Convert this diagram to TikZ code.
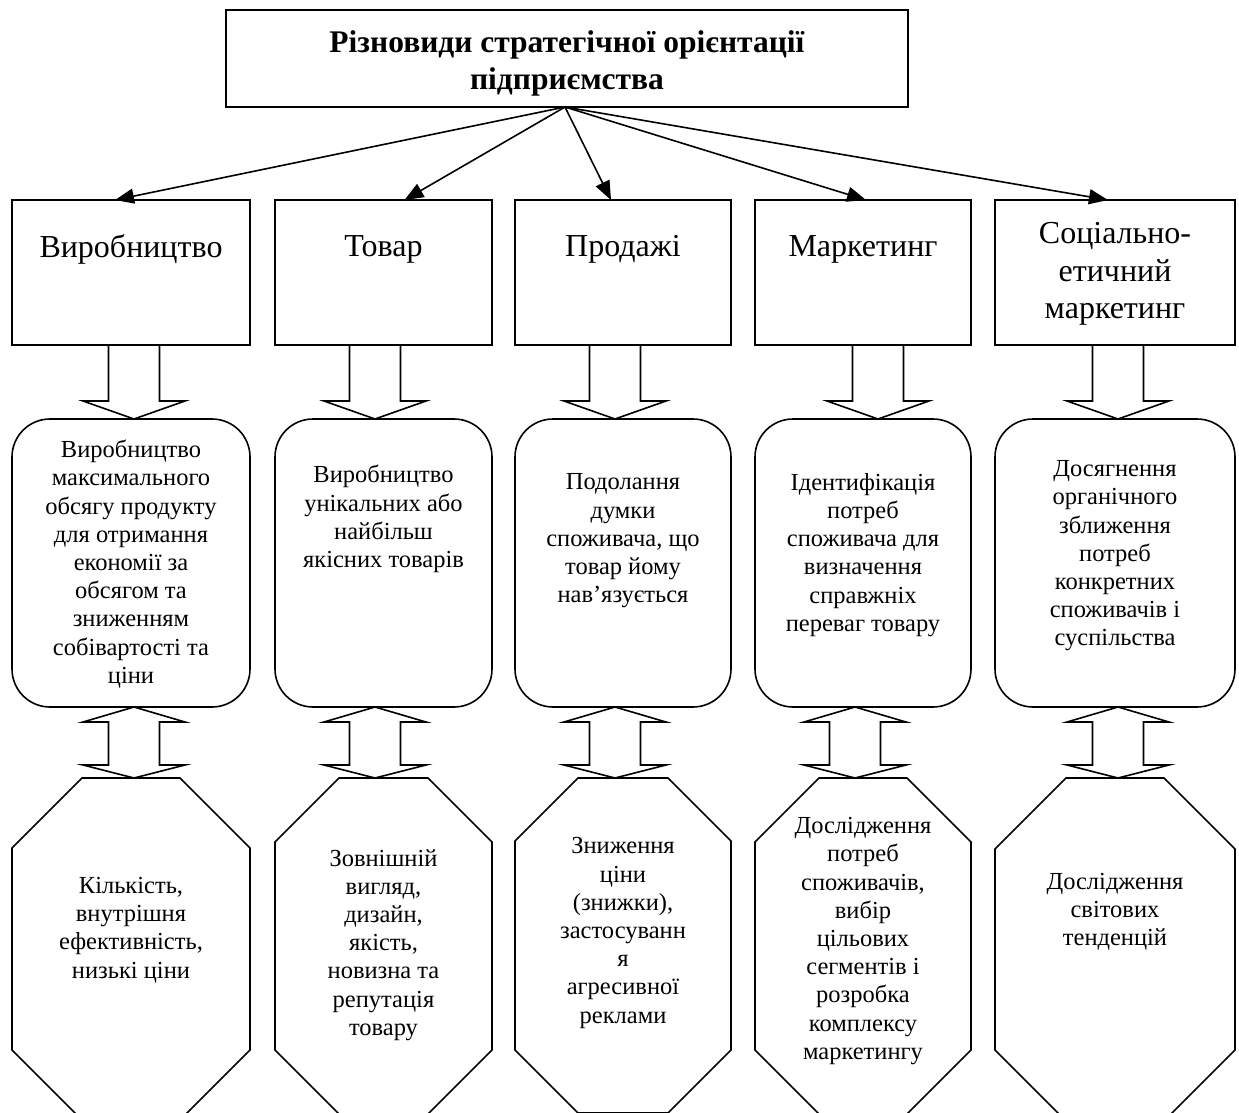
\documentclass[tikz,border=0pt]{standalone}
\usepackage{fontspec}
\setmainfont{Liberation Serif}
\usetikzlibrary{arrows.meta}
\newcommand\fsmall{\fontsize{24.5pt}{28.2pt}\selectfont}
\newcommand\fbig{\fontsize{32pt}{37.5pt}\selectfont}
\newcommand\ftitle{\fontsize{31.5pt}{37pt}\selectfont\bfseries}
% block arrow pointing down, #1 = centre x
\newcommand\blockdown[1]{%
  \draw[shapeline] (#1-25.5,345) -- (#1-25.5,401) -- (#1-51,401) -- (#1,419)
    -- (#1+51,401) -- (#1+25.5,401) -- (#1+25.5,345);}
% double block arrow, #1 = centre x
\newcommand\blockboth[1]{%
  \draw[shapeline] (#1,707) -- (#1+51,722) -- (#1+25.5,722) -- (#1+25.5,765)
    -- (#1+51,765) -- (#1,778) -- (#1-51,765) -- (#1-25.5,765)
    -- (#1-25.5,722) -- (#1-51,722) -- cycle;}
% octagon: #1 left x, #2 right x, #3 slant
\newcommand\octashape[3]{%
  \draw[shapeline] (#1+#3,778) -- (#2-#3,778) -- (#2,778+#3) -- (#2,1050)
    -- (#2-#3,1050+#3) -- (#1+#3,1050+#3) -- (#1,1050) -- (#1,778+#3) -- cycle;}
\begin{document}
\begin{tikzpicture}[x=1pt,y=-1pt,
  shapeline/.style={line width=1.6pt, line join=miter},
  frame/.style={draw, line width=1.6pt, inner sep=0pt, outer sep=0pt},
  rbox/.style={frame, rounded corners=38pt, minimum height=288pt},
  tbox/.style={frame, minimum height=145pt},
  txt/.style={align=center, inner sep=0pt, font=\fsmall},
  bigtxt/.style={align=center, inner sep=0pt, font=\fbig},
  conn/.style={line width=1.6pt, -{Triangle[length=19pt,width=15pt]}}]
\useasboundingbox (0,0) rectangle (1239,1113);
\clip (0,0) rectangle (1239,1113);
\fill[white] (0,0) rectangle (1239,1113);

% title
\node[frame, minimum width=682pt, minimum height=97pt] (title) at (567,58.5) {};
\node[align=center, inner sep=0pt, font=\ftitle] (titletxt) at (567,63)
  {Різновиди стратегічної орієнтації\\підприємства};
\coordinate (hub) at (565,107);

% top row boxes
\node[tbox, minimum width=238pt] (b1) at (131,272.5) {};
\node[tbox, minimum width=217pt] (b2) at (383.5,272.5) {};
\node[tbox, minimum width=216pt] (b3) at (623,272.5) {};
\node[tbox, minimum width=216pt] (b4) at (863,272.5) {};
\node[tbox, minimum width=240pt] (b5) at (1115,272.5) {};
\node[bigtxt] (bt1) at (131,249) {Виробництво};
\node[bigtxt] (bt2) at (383.5,249) {Товар};
\node[bigtxt] (bt3) at (623,249) {Продажі};
\node[bigtxt] (bt4) at (863,249) {Маркетинг};
\node[bigtxt] (bt5) at (1115,274) {Соціально-\\етичний\\маркетинг};

% connectors
\draw[conn] (hub) -- ([xshift=-16pt]b1.north);
\draw[conn] (hub) -- ([xshift=21pt]b2.north);
\draw[conn] (hub) -- ([xshift=-12pt]b3.north);
\draw[conn] (hub) -- ([xshift=3pt]b4.north);
\draw[conn] (hub) -- ([xshift=-7pt]b5.north);

% rounded boxes
\node[rbox, minimum width=238pt] (r1) at (131,563) {};
\node[rbox, minimum width=217pt] (r2) at (383.5,563) {};
\node[rbox, minimum width=216pt] (r3) at (623,563) {};
\node[rbox, minimum width=216pt] (r4) at (863,563) {};
\node[rbox, minimum width=240pt] (r5) at (1115,563) {};
\node[txt] (rt1) at (131,564) {Виробництво\\максимального\\обсягу продукту\\для отримання\\економії за\\обсягом та\\зниженням\\собівартості та\\ціни};
\node[txt] (rt2) at (383.5,519) {Виробництво\\унікальних або\\найбільш\\якісних товарів};
\node[txt] (rt3) at (623,541) {Подолання\\думки\\споживача, що\\товар йому\\нав’язується};
\node[txt] (rt4) at (863,555) {Ідентифікація\\потреб\\споживача для\\визначення\\справжніх\\переваг товару};
\node[txt] (rt5) at (1115,556) {Досягнення\\органічного\\зближення\\потреб\\конкретних\\споживачів і\\суспільства};

% block arrows
\blockdown{134}
\blockdown{375}
\blockdown{615}
\blockdown{878}
\blockdown{1118}
\blockboth{134}
\blockboth{375}
\blockboth{615}
\blockboth{855}
\blockboth{1118}

% octagons
\octashape{12}{250}{70}
\octashape{275}{492}{64}
\octashape{515}{731}{63}
\octashape{755}{971}{64}
\octashape{995}{1235}{71}
\node[txt] (o1) at (131,930) {Кількість,\\внутрішня\\ефективність,\\низькі ціни};
\node[txt] (o2) at (383.5,945) {Зовнішній\\вигляд,\\дизайн,\\якість,\\новизна та\\репутація\\товару};
\node[txt] (o3) at (623,933) {Зниження\\ціни\\(знижки),\\застосуванн\\я\\агресивної\\реклами};
\node[txt] (o4) at (863,941) {Дослідження\\потреб\\споживачів,\\вибір\\цільових\\сегментів і\\розробка\\комплексу\\маркетингу};
\node[txt] (o5) at (1115,912) {Дослідження\\світових\\тенденцій};
\end{tikzpicture}
\end{document}
